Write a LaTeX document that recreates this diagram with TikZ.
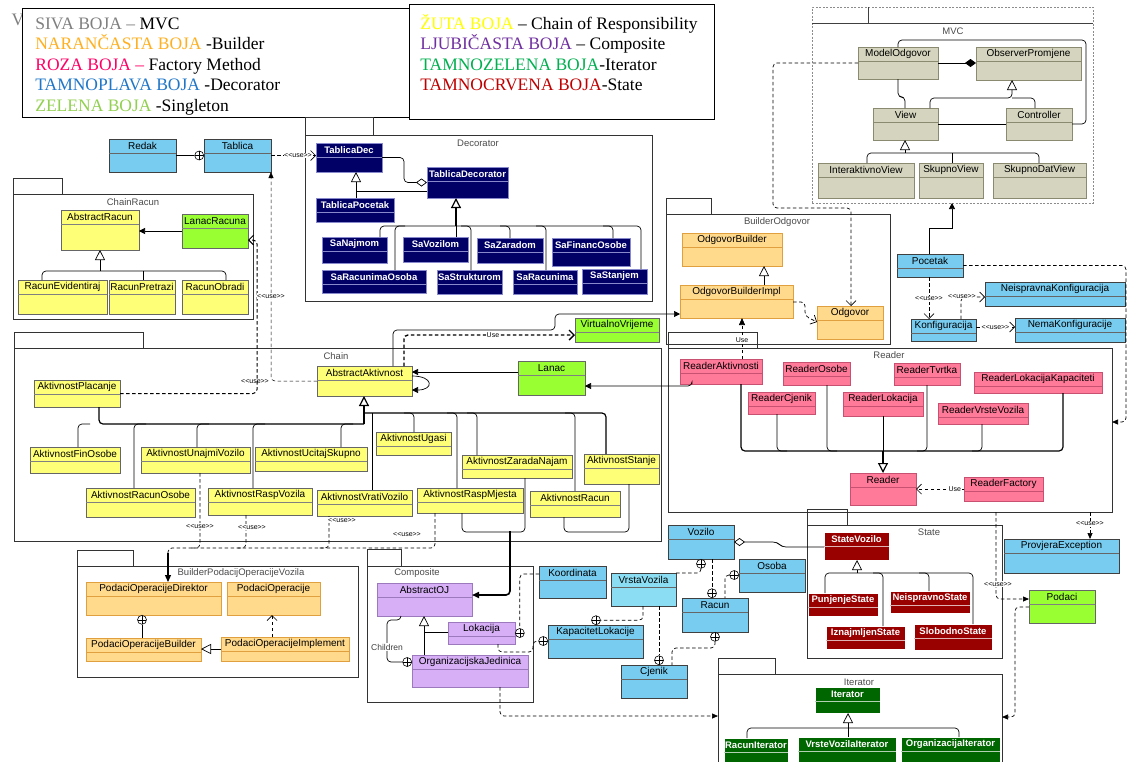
\documentclass[tikz,border=0pt]{standalone}
\usepackage{fontspec}
\setmainfont{Liberation Serif}
\newfontfamily\lsans{Liberation Sans}
\usetikzlibrary{arrows.meta}
\definecolor{cYel}{HTML}{FFFF77}
\definecolor{cGrn}{HTML}{99FF33}
\definecolor{cOra}{HTML}{FFD98C}
\definecolor{cOraD}{HTML}{E0A040}
\definecolor{cPnk}{HTML}{FF7A99}
\definecolor{cPnkD}{HTML}{C85070}
\definecolor{cBlu}{HTML}{77CCF0}
\definecolor{cLBl}{HTML}{8ADDF2}
\definecolor{cPur}{HTML}{D6AFF7}
\definecolor{cPurD}{HTML}{9C78BC}
\definecolor{cNvy}{HTML}{000066}
\definecolor{cNvyL}{HTML}{8888CC}
\definecolor{cDrd}{HTML}{990000}
\definecolor{cDgr}{HTML}{006600}
\definecolor{cMvc}{HTML}{D5D5BF}
\definecolor{cMvcD}{HTML}{8A8A70}
\definecolor{cSiva}{HTML}{808080}
\definecolor{cNar}{HTML}{FFB020}
\definecolor{cRoza}{HTML}{FF0066}
\definecolor{cTpl}{HTML}{1F77C8}
\definecolor{cZel}{HTML}{92D050}
\definecolor{cZut}{HTML}{FFFF00}
\definecolor{cLju}{HTML}{7030A0}
\definecolor{cTze}{HTML}{00B050}
\definecolor{cTcr}{HTML}{C00000}
\newcommand{\uselbl}{<\kern0pt<use>\kern0pt>}
\tikzset{
  cls/.style={rectangle, inner sep=0pt, outer sep=0pt, line width=0.6pt},
  ctxt/.style={inner sep=0pt, font=\lsans\fontsize{10}{11}\selectfont, text=black},
  btxt/.style={inner sep=0pt, font=\lsans\bfseries\fontsize{9.5}{11}\selectfont, text=white},
  yel/.style={cls, draw=black!60, fill=cYel}, yel sep/.style={draw=black!50, line width=0.5pt}, yel txt/.style={ctxt},
  grn/.style={cls, draw=black!60, fill=cGrn}, grn sep/.style={draw=black!50, line width=0.5pt}, grn txt/.style={ctxt},
  ora/.style={cls, draw=cOraD, fill=cOra}, ora sep/.style={draw=cOraD, line width=0.5pt}, ora txt/.style={ctxt},
  pnk/.style={cls, draw=cPnkD, fill=cPnk}, pnk sep/.style={draw=cPnkD, line width=0.5pt}, pnk txt/.style={ctxt},
  blu/.style={cls, draw=black!75, fill=cBlu}, blu sep/.style={draw=black!60, line width=0.5pt}, blu txt/.style={ctxt},
  lbu/.style={cls, draw=black!75, fill=cLBl}, lbu sep/.style={draw=black!60, line width=0.5pt}, lbu txt/.style={ctxt},
  pur/.style={cls, draw=cPurD, fill=cPur}, pur sep/.style={draw=cPurD, line width=0.5pt}, pur txt/.style={ctxt},
  nvy/.style={cls, draw=cNvyL, fill=cNvy}, nvy sep/.style={draw=cNvyL, line width=0.5pt}, nvy txt/.style={btxt},
  drd/.style={cls, draw=white, fill=cDrd}, drd sep/.style={draw=white!70!cDrd, line width=0.5pt}, drd txt/.style={btxt},
  dgr/.style={cls, draw=white, fill=cDgr}, dgr sep/.style={draw=white!70!cDgr, line width=0.5pt}, dgr txt/.style={btxt},
  mvc/.style={cls, draw=cMvcD, fill=cMvc}, mvc sep/.style={draw=cMvcD, line width=0.5pt}, mvc txt/.style={ctxt},
  pkg/.style={rectangle, draw=black!80, line width=0.7pt, inner sep=0pt, outer sep=0pt},
  pkg txt/.style={font=\lsans\fontsize{9.5}{11}\selectfont, text=black!70, inner sep=0pt},
  lab/.style={font=\lsans\fontsize{7}{8}\selectfont, inner sep=0.6pt},
  rc/.style={rounded corners=4pt},
  inh/.style={-{Triangle[open,length=10pt,width=10pt]}},
  arr/.style={-{Triangle[length=6pt,width=6pt]}},
  dsh/.style={dash pattern=on 3.5pt off 2.5pt},
  dep/.style={dsh, -{Straight Barb[length=5pt,width=10pt]}},
  oplus/.style={circle, draw, fill=white, minimum size=9pt, inner sep=0pt, line width=0.6pt,
    path picture={\draw[line width=0.6pt] (path picture bounding box.north) -- (path picture bounding box.south)
      (path picture bounding box.west) -- (path picture bounding box.east);}},
  legt/.style={anchor=base west, inner sep=0pt, font=\fontsize{17.5}{20}\selectfont},
}
\newcommand{\uc}[7]{%
  \node[#1, minimum width={(#5-#3)*1pt}, minimum height={(#6-#4)*1pt}] (#2) at ({(#3+#5)/2},{(#4+#6)/2}) {};
  \draw[#1 sep] ([yshift=-14pt]#2.north west) -- ([yshift=-14pt]#2.north east);
  \node[#1 txt] (#2-t) at ([yshift=-7pt]#2.north) {#7};}
\newcommand{\pk}[9]{%
  \node[pkg, minimum width={(#4-#2)*1pt}, minimum height={(#5-#3)*1pt}] (#1) at ({(#2+#4)/2},{(#3+#5)/2}) {};
  \node[pkg, minimum width={(#6-#2)*1pt}, minimum height={(#3-#7)*1pt}] (#1-tab) at ({(#2+#6)/2},{(#3+#7)/2}) {};
  \node[pkg txt] (#1-l) at (#9) {#8};}
\begin{document}
\begin{tikzpicture}[x=1pt,y=-1pt,line width=0.7pt]
\useasboundingbox (0,0) rectangle (1133,761);
\fill[white] (0,0) rectangle (1133,761);
% legend
\node[text=cSiva, font=\fontsize{17.5}{20}\selectfont, inner sep=0pt] (vcut) at (18,20) {V};
\node[draw, fill=white, line width=0.9pt, minimum width=387pt, minimum height=109pt, inner sep=0pt] (leg1) at (215.5,62.5) {};
\node[draw, fill=white, line width=0.9pt, minimum width=305pt, minimum height=115pt, inner sep=0pt] (leg2) at (561.5,61.5) {};
\node[legt] (lg1) at (35,29) {\textcolor{cSiva}{SIVA BOJA –} MVC};
\node[legt] (lg2) at (35,49.5) {\textcolor{cNar}{NARANČASTA BOJA} -Builder};
\node[legt] (lg3) at (35,70) {\textcolor{cRoza}{ROZA BOJA –} Factory Method};
\node[legt] (lg4) at (35,90.5) {\textcolor{cTpl}{TAMNOPLAVA BOJA} -Decorator};
\node[legt] (lg5) at (35,111) {\textcolor{cZel}{ZELENA BOJA} -Singleton};
\node[legt] (lg6) at (420,29) {\textcolor{cZut}{ŽUTA BOJA} – Chain of Responsibility};
\node[legt] (lg7) at (420,49.5) {\textcolor{cLju}{LJUBIČASTA BOJA} – Composite};
\node[legt] (lg8) at (420,70) {\textcolor{cTze}{TAMNOZELENA BOJA}-Iterator};
\node[legt] (lg9) at (420,90.5) {\textcolor{cTcr}{TAMNOCRVENA BOJA}-State};
% packages
\node[pkg, draw=black!45, dash pattern=on 2pt off 1.5pt, minimum width=281pt, minimum height=196pt] (pkgMVC) at (952.5,105) {};
\draw[black!75] (pkgMVC.west |- 0,23) -- (pkgMVC.east |- 0,23);
\draw[black!75] (868,7) -- (868,23);
\node[pkg txt] (pkgMVC-l) at (953,31) {MVC};
\pk{pkgDec}{305}{135}{652}{301}{373}{117}{Decorator}{478,143}
\pk{pkgCR}{13}{194}{253}{319}{62}{178}{ChainRacun}{133,202}
\pk{pkgBO}{666}{214}{890}{344}{711}{198}{BuilderOdgovor}{777,222}
\pk{pkgChain}{14}{348}{661}{541}{143}{332}{Chain}{336,356}
\pk{pkgReader}{668}{348}{1112}{512}{757}{332}{Reader}{889,355}
\pk{pkgState}{807}{525}{1002}{658}{847}{509}{State}{929,532}
\pk{pkgComp}{367}{566}{533}{702}{401}{549}{Composite}{417,573}
\pk{pkgBP}{77}{566}{358}{677}{133}{550}{BuilderPodacijOperacijeVozila}{241,573}
\pk{pkgIter}{718}{674}{1002}{775}{775}{658}{Iterator}{859,682}
% MVC classes
\uc{mvc}{ModelOdgovor}{858}{47}{938}{79}{ModelOdgovor}
\uc{mvc}{ObserverPromjene}{976}{47}{1081}{80}{ObserverPromjene}
\uc{mvc}{View}{873}{108}{938}{140}{View}
\uc{mvc}{Controller}{1006}{108}{1072}{140}{Controller}
\uc{mvc}{InteraktivnoView}{818}{163}{914}{198}{InteraktivnoView}
\uc{mvc}{SkupnoView}{919}{163}{983}{198}{SkupnoView}
\uc{mvc}{SkupnoDatView}{993}{163}{1086}{198}{SkupnoDatView}
% Tablica
\uc{blu}{Redak}{109}{139}{176}{172}{Redak}
\uc{blu}{Tablica}{204}{139}{271}{172}{Tablica}
% Decorator
\uc{nvy}{TablicaDec}{316}{143}{382}{172}{TablicaDec}
\uc{nvy}{TablicaDecorator}{427}{167}{508}{198}{TablicaDecorator}
\uc{nvy}{TablicaPocetak}{316}{198}{394}{222}{TablicaPocetak}
\uc{nvy}{SaNajmom}{322}{237}{387}{263}{SaNajmom}
\uc{nvy}{SaVozilom}{403}{237}{468}{262}{SaVozilom}
\uc{nvy}{SaZaradom}{477}{238}{543}{263}{SaZaradom}
\uc{nvy}{SaFinancOsobe}{552}{238}{630}{266}{SaFinancOsobe}
\uc{nvy}{SaRacunimaOsoba}{322}{270}{426}{293}{SaRacunimaOsoba}
\uc{nvy}{SaStrukturom}{437}{270}{502}{294}{SaStrukturom}
\uc{nvy}{SaRacunima}{513}{270}{577}{294}{SaRacunima}
\uc{nvy}{SaStanjem}{582}{269}{647}{294}{SaStanjem}
% ChainRacun
\uc{yel}{AbstractRacun}{61}{210}{139}{250}{AbstractRacun}
\uc{grn}{LanacRacuna}{182}{214}{248}{248}{LanacRacuna}
\uc{yel}{RacunEvidentiraj}{18}{280}{107}{314}{RacunEvidentiraj}
\uc{yel}{RacunPretrazi}{109}{280}{175}{314}{RacunPretrazi}
\uc{yel}{RacunObradi}{182}{280}{248}{314}{RacunObradi}
% Chain
\uc{yel}{AbstractAktivnost}{317}{366}{412}{396}{AbstractAktivnost}
\uc{grn}{Lanac}{518}{361}{585}{395}{Lanac}
\uc{grn}{VirtualnoVrijeme}{575}{318}{659}{342}{VirtualnoVrijeme}
\uc{yel}{AktivnostPlacanje}{34}{380}{120}{407}{AktivnostPlacanje}
\uc{yel}{AktivnostFinOsobe}{30}{447}{120}{473}{AktivnostFinOsobe}
\uc{yel}{AktivnostUnajmiVozilo}{141}{447}{250}{473}{AktivnostUnajmiVozilo}
\uc{yel}{AktivnostUcitajSkupno}{255}{447}{367}{471}{AktivnostUcitajSkupno}
\uc{yel}{AktivnostUgasi}{376}{432}{451}{455}{AktivnostUgasi}
\uc{yel}{AktivnostZaradaNajam}{462}{455}{572}{478}{AktivnostZaradaNajam}
\uc{yel}{AktivnostStanje}{584}{454}{659}{484}{AktivnostStanje}
\uc{yel}{AktivnostRacunOsobe}{86}{488}{195}{517}{AktivnostRacunOsobe}
\uc{yel}{AktivnostRaspVozila}{208}{488}{312}{515}{AktivnostRaspVozila}
\uc{yel}{AktivnostVratiVozilo}{317}{490}{412}{516}{AktivnostVratiVozilo}
\uc{yel}{AktivnostRaspMjesta}{417}{488}{523}{513}{AktivnostRaspMjesta}
\uc{yel}{AktivnostRacun}{530}{491}{620}{517}{AktivnostRacun}
% BuilderOdgovor
\uc{ora}{OdgovorBuilder}{682}{233}{782}{266}{OdgovorBuilder}
\uc{ora}{OdgovorBuilderImpl}{680}{285}{793}{318}{OdgovorBuilderImpl}
\uc{ora}{Odgovor}{817}{306}{883}{339}{Odgovor}
% Pocetak
\uc{blu}{Pocetak}{897}{254}{963}{277}{Pocetak}
\uc{blu}{Konfiguracija}{911}{319}{976}{341}{Konfiguracija}
\uc{blu}{NeispravnaKonfiguracija}{985}{282}{1125}{306}{NeispravnaKonfiguracija}
\uc{blu}{NemaKonfiguracije}{1015}{318}{1125}{342}{NemaKonfiguracije}
% Reader
\uc{pnk}{ReaderAktivnosti}{680}{359}{762}{384}{ReaderAktivnosti}
\uc{pnk}{ReaderOsobe}{783}{362}{850}{385}{ReaderOsobe}
\uc{pnk}{ReaderTvrtka}{894}{363}{960}{385}{ReaderTvrtka}
\uc{pnk}{ReaderLokacijaKapaciteti}{974}{372}{1102}{393}{ReaderLokacijaKapaciteti}
\uc{pnk}{ReaderCjenik}{748}{392}{815}{414}{ReaderCjenik}
\uc{pnk}{ReaderLokacija}{843}{392}{923}{416}{ReaderLokacija}
\uc{pnk}{ReaderVrsteVozila}{938}{403}{1028}{424}{ReaderVrsteVozila}
\uc{pnk}{Reader}{850}{473}{916}{505}{Reader}
\uc{pnk}{ReaderFactory}{964}{477}{1043}{501}{ReaderFactory}
% State
\uc{drd}{StateVozilo}{824}{532}{889}{560}{StateVozilo}
\uc{drd}{PunjenjeState}{808}{593}{878}{616}{PunjenjeState}
\uc{drd}{NeispravnoState}{890}{591}{970}{613}{NeispravnoState}
\uc{drd}{IznajmljenState}{826}{626}{905}{649}{IznajmljenState}
\uc{drd}{SlobodnoState}{914}{624}{992}{650}{SlobodnoState}
% blue middle
\uc{blu}{Vozilo}{668}{525}{734}{559}{Vozilo}
\uc{lbu}{VrstaVozila}{611}{573}{676}{606}{VrstaVozila}
\uc{blu}{Osoba}{739}{559}{805}{592}{Osoba}
\uc{blu}{Racun}{682}{598}{748}{632}{Racun}
\uc{blu}{Cjenik}{621}{665}{687}{698}{Cjenik}
\uc{blu}{KapacitetLokacije}{548}{625}{643}{658}{KapacitetLokacije}
\uc{blu}{Koordinata}{539}{566}{606}{598}{Koordinata}
\uc{blu}{ProvjeraException}{1004}{539}{1119}{573}{ProvjeraException}
\uc{grn}{Podaci}{1029}{590}{1095}{623}{Podaci}
% Composite
\uc{pur}{AbstractOJ}{377}{583}{472}{616}{AbstractOJ}
\uc{pur}{Lokacija}{448}{622}{515}{644}{Lokacija}
\uc{pur}{OrganizacijskaJedinica}{412}{655}{528}{687}{OrganizacijskaJedinica}
% BuilderPodaci
\uc{ora}{PodaciOperacijeDirektor}{86}{582}{221}{615}{PodaciOperacijeDirektor}
\uc{ora}{PodaciOperacije}{227}{582}{320}{615}{PodaciOperacije}
\uc{ora}{PodaciOperacijeBuilder}{86}{638}{201}{661}{PodaciOperacijeBuilder}
\uc{ora}{PodaciOperacijeImplement}{221}{637}{349}{661}{PodaciOperacijeImplement}
% Iterator
\uc{dgr}{Iterator}{815}{687}{880}{713}{Iterator}
\uc{dgr}{RacunIterator}{724}{738}{788}{766}{RacunIterator}
\uc{dgr}{VrsteVozilaIterator}{798}{737}{896}{766}{VrsteVozilaIterator}
\uc{dgr}{OrganizacijaIterator}{901}{737}{1000}{766}{OrganizacijaIterator}
% nesting symbols
\node[oplus, anchor=east] (opRT) at (Tablica.west) {};
\node[oplus, anchor=north] (opVV) at (Vozilo.south -| 701,0) {};
\node[oplus, anchor=south] (opVR) at (Racun.north -| 712,0) {};
\node[oplus, anchor=east] (opOR) at (Osoba.west |- 0,575) {};
\node[oplus, anchor=north] (opRC) at (Racun.south -| 715,0) {};
\node[oplus, anchor=south] (opVC) at (Cjenik.north -| 659,0) {};
\node[oplus, anchor=south] (opVK) at (KapacitetLokacije.north -| 596,0) {};
\node[oplus, anchor=west] (opKL) at (Lokacija.east |- 0,633) {};
\node[oplus, anchor=east] (opLK) at (KapacitetLokacije.west |- 0,641) {};
\node[oplus, anchor=east] (opCh) at (OrganizacijskaJedinica.west |- 0,662) {};
\node[oplus, anchor=north] (opPD) at (PodaciOperacijeDirektor.south -| 142,0) {};
% MVC connectors
\draw[-{Diamond[length=11pt,width=8pt]}] (ModelOdgovor.east) -- (ModelOdgovor.east -| ObserverPromjene.west);
\draw[rc] (ModelOdgovor.south -| 898,0) |- (905,97) -- (View.north -| 905,0);
\draw[rc, inh] (View.north -| 930,0) |- (1012,98) -- (ObserverPromjene.south -| 1012,0);
\draw[rc] (Controller.north -| 1035,0) |- (1012,98);
\draw (View.east) -- (Controller.west);
\draw[rc] (Controller.east) -| (1086,40) -| (ModelOdgovor.north -| 898,0);
\draw[rc] (InteraktivnoView.north -| 867,0) |- (1039,153) -- (SkupnoDatView.north -| 1039,0);
\draw (SkupnoView.north -| 952,0) -- (952,153);
\draw[inh] (905,153) -- (View.south -| 905,0);
\draw[dep, rc] (ModelOdgovor.west) -| (773,208) -| (Odgovor.north -| 851,0);
\draw[arr] (Pocetak.north -| 929,0) |- (952,228) -- (pkgMVC.south -| 952,0);
% Decorator connectors
\draw (Redak.east) -- (opRT.west);
\draw[dep] (Tablica.east) -- (Tablica.east -| TablicaDec.west) node[lab, pos=0.6, fill=white] {\uselbl};
\draw[rc, -{Diamond[open,length=11pt,width=8pt]}] (TablicaDec.east) -| (404,182.5) -- (TablicaDecorator.west);
\draw[inh] (TablicaPocetak.north -| 356,0) -- (TablicaDec.south -| 356,0);
\draw (TablicaDecorator.west |- 0,191) -- (356,191);
\draw[inh, line width=1.2pt] (456,226) -- (TablicaDecorator.south -| 456,0);
\draw[rc] (SaNajmom.north -| 380,0) |- (641,226) -- (SaStanjem.north -| 641,0);
\draw[rc] (SaRacunimaOsoba.north -| 395,0) |- (405,226);
\draw (SaVozilom.north -| 456,0) -- (456,226);
\draw[rc] (SaStrukturom.north -| 471,0) |- (461,226);
\draw[rc] (SaZaradom.north -| 510,0) |- (500,226);
\draw[rc] (SaRacunima.north -| 546,0) |- (536,226);
\draw[rc] (SaFinancOsobe.north -| 613,0) |- (603,226);
% ChainRacun connectors
\draw[arr] (LanacRacuna.west) -- (LanacRacuna.west -| AbstractRacun.east);
\draw[inh] (100,271) -- (AbstractRacun.south -| 100,0);
\draw[rc] (RacunEvidentiraj.north -| 42,0) |- (226,271) -- (RacunObradi.north -| 226,0);
\draw (RacunPretrazi.north -| 143,0) -- (143,271);
\draw[dep, line width=1pt, rc] (AktivnostPlacanje.east) -| (257,240) -- (LanacRacuna.east |- 0,240);
\draw[dsh, line width=0.5pt, rc, -{Triangle[length=6pt,width=5pt]}] (AbstractAktivnost.west) -| (Tablica.south -| 271,0);
\node[lab] (u1) at (255,381) {\uselbl};
\node[lab, fill=white] (u2) at (271,296) {\uselbl};
% Chain connectors
\draw[arr] (Lanac.west |- 0,372) -- (AbstractAktivnost.east |- 0,372);
\draw[arr] (AbstractAktivnost.east |- 0,376) .. controls (434,376) and (434,390) .. (AbstractAktivnost.east |- 0,390);
\draw[dep, line width=1.4pt, rc] (AbstractAktivnost.north -| 404,0) |- ([yshift=-5pt]VirtualnoVrijeme.west) node[lab, pos=0.76, fill=white] {Use};
\draw[arr, rc] (AbstractAktivnost.north -| 393,0) |- (555,330) |- (OdgovorBuilderImpl.west |- 0,314);
\draw[dsh, -{Triangle[length=7pt,width=6pt]}] (ReaderAktivnosti.north -| 742,0) -- (OdgovorBuilderImpl.south -| 742,0) node[lab, pos=0.45, fill=white] {Use};
\draw[arr, rc] (ReaderAktivnosti.south -| 692,0) |- (Lanac.east |- 0,386);
\draw[inh, line width=1.2pt] (364,424) -- (AbstractAktivnost.south -| 364,0);
\draw[rc, line width=1.2pt] (AktivnostPlacanje.south -| 99,0) |- (364,424);
\draw[rc] (AktivnostFinOsobe.north -| 78,0) |- (90,424);
\draw[rc] (AktivnostRacunOsobe.north -| 134,0) |- (146,424);
\draw[rc] (AktivnostUnajmiVozilo.north -| 197,0) |- (209,424);
\draw[rc] (AktivnostRaspVozila.north -| 253,0) |- (265,424);
\draw[rc] (AktivnostUcitajSkupno.north -| 341,0) |- (353,424);
\draw[rc, line width=1.2pt] (364,413) -| (AktivnostStanje.north -| 606,0);
\draw (AktivnostVratiVozilo.north -| 372,0) -- (372,413);
\draw[rc] (AktivnostUgasi.north -| 414,0) |- (404,413);
\draw[rc] (AktivnostRaspMjesta.north -| 457,0) |- (447,413);
\draw[rc] (AktivnostZaradaNajam.north -| 477,0) |- (467,413);
\draw[rc] (AktivnostRacun.north -| 575,0) |- (565,413);
\draw[rc] (AktivnostRaspMjesta.south -| 462,0) |- (510,532);
\draw[rc] (AktivnostZaradaNajam.south -| 525,0) |- (510,532);
\draw[rc, line width=1.6pt, -{Triangle[length=7pt,width=6pt]}] (510,531) |- (AbstractOJ.east |- 0,595);
\draw[rc] (AktivnostRacun.south -| 564,0) |- (629,532) -- (AktivnostStanje.south -| 629,0);
% use -> BuilderPodaci
\draw[dsh, rc] (AktivnostRaspMjesta.south -| 435,0) |- (168,548) -- (168,555);
\draw[dsh, rc] (AktivnostUnajmiVozilo.south -| 200,0) |- (190,548);
\draw[dsh, rc] (AktivnostRaspVozila.south -| 246,0) |- (236,548);
\draw[dsh, rc] (AktivnostVratiVozilo.south -| 329,0) |- (319,548);
\draw[line width=1.2pt, -{Triangle[length=7pt,width=6pt]}] (168,553) -- (PodaciOperacijeDirektor.north -| 168,0);
\node[lab, fill=white] (u3) at (200,526) {\uselbl};
\node[lab, fill=white] (u4) at (252,527) {\uselbl};
\node[lab, fill=white] (u5) at (342,520) {\uselbl};
\node[lab, fill=white] (u6) at (407,534) {\uselbl};
% BuilderOdgovor
\draw[inh] (OdgovorBuilderImpl.north -| 764,0) -- (OdgovorBuilder.south -| 764,0);
\draw[dep, rc] (OdgovorBuilderImpl.east |- 0,302) -| (805,316) -- (Odgovor.west |- 0,322);
% Pocetak
\draw[dep] (Pocetak.south -| 929,0) -- (Konfiguracija.north -| 929,0) node[lab, pos=0.52, fill=white] {\uselbl};
\draw[dep, rc] (Konfiguracija.north -| 961,0) |- (NeispravnaKonfiguracija.west |- 0,297);
\node[lab, fill=white] (u7) at (962,296) {\uselbl};
\draw[dep] (Konfiguracija.east |- 0,327) -- (NemaKonfiguracije.west |- 0,327) node[lab, midway, fill=white] {\uselbl};
\draw[dsh, rc, -{Triangle[length=6pt,width=5pt]}] (Pocetak.east) -| (1126,422) -- (pkgReader.east |- 0,422);
% Reader
\draw[inh, line width=1.2pt] (883,451) -- (Reader.north -| 883,0);
\draw[rc, line width=1.2pt] (ReaderAktivnosti.south -| 741,0) |- (1063,451) -- (ReaderLokacijaKapaciteti.south -| 1063,0);
\draw[rc] (ReaderCjenik.south -| 777,0) |- (787,451);
\draw[rc] (ReaderOsobe.south -| 827,0) |- (837,451);
\draw (ReaderLokacija.south -| 883,0) -- (883,451);
\draw[rc] (ReaderTvrtka.south -| 927,0) |- (917,451);
\draw[rc] (ReaderVrsteVozila.south -| 982,0) |- (972,451);
\draw[dep] (ReaderFactory.west) -- (ReaderFactory.west -| Reader.east) node[lab, pos=0.19, fill=white] {Use};
\draw[dsh, -{Triangle[length=6pt,width=5pt]}] (pkgReader.south -| 1090,0) -- (ProvjeraException.north -| 1090,0) node[lab, pos=0.44, fill=white] {\uselbl};
\draw[dsh, rc, -{Triangle[length=6pt,width=5pt]}] (pkgReader.south -| 996,0) |- (Podaci.west |- 0,599);
\node[lab, fill=white] (u8) at (998,584) {\uselbl};
\draw[dsh, rc, -{Triangle[length=6pt,width=5pt]}] (Podaci.west |- 0,607) -| (1015,717) -- (pkgIter.east |- 0,717);
% State
\draw[inh] (857,573) -- (StateVozilo.south -| 857,0);
\draw[rc] (PunjenjeState.north -| 825,0) |- (973,573) -- (SlobodnoState.north -| 973,0);
\draw[rc] (IznajmljenState.north -| 883,0) |- (873,573);
\draw[rc] (NeispravnoState.north -| 929,0) |- (919,573);
\draw[rc, {Diamond[open,length=11pt,width=8pt]}-] (Vozilo.east |- 0,542) -- (777,542) -- (782,547) -- (StateVozilo.west |- 0,547);
% blue middle
\draw[dsh, rc] (opVV.south) |- (VrstaVozila.north east);
\draw[dsh] (Vozilo.south -| 712,0) -- (opVR.north);
\draw[dsh, rc] (opOR.west) -| (Racun.north -| 725,0);
\draw[dsh, rc] (opRC.south) |- (672,648) -- (Cjenik.north -| 672,0);
\draw[dsh] (VrstaVozila.south -| 659,0) -- (opVC.north);
\draw[dsh, rc] (VrstaVozila.south -| 643,0) |- (opVK.east);
\draw[dsh, rc] (Koordinata.west |- 0,574) -| (opKL.north);
\draw[dsh, rc] (Lokacija.south -| 498,0) |- (533,652) |- (opLK.west);
\draw[dsh, rc, -{Triangle[length=6pt,width=5pt]}] (OrganizacijskaJedinica.south -| 500,0) |- (pkgIter.west |- 0,716);
% Composite
\draw[inh] (OrganizacijskaJedinica.north -| 424,0) -- (AbstractOJ.south -| 424,0);
\draw (Lokacija.west |- 0,632) -- (424,632);
\draw[rc] (AbstractOJ.south -| 401,0) |- (387,620) |- (opCh.west);
\node[font=\lsans\fontsize{8.5}{9}\selectfont, fill=white, inner sep=0.5pt, text=black!75] (chl) at (387,647) {Children};
% BuilderPodaci
\draw (opPD.south) -- (PodaciOperacijeBuilder.north -| 142,0);
\draw[dep] (PodaciOperacijeImplement.north -| 272,0) -- (PodaciOperacije.south -| 272,0);
\draw[inh] (PodaciOperacijeImplement.west |- 0,649) -- (PodaciOperacijeBuilder.east |- 0,649);
% Iterator
\draw[inh] (848,728) -- (Iterator.south -| 848,0);
\draw[rc] (RacunIterator.north -| 747,0) |- (959,728) -- (OrganizacijaIterator.north -| 959,0);
\draw (VrsteVozilaIterator.north -| 848,0) -- (848,728);
\end{tikzpicture}
\end{document}
